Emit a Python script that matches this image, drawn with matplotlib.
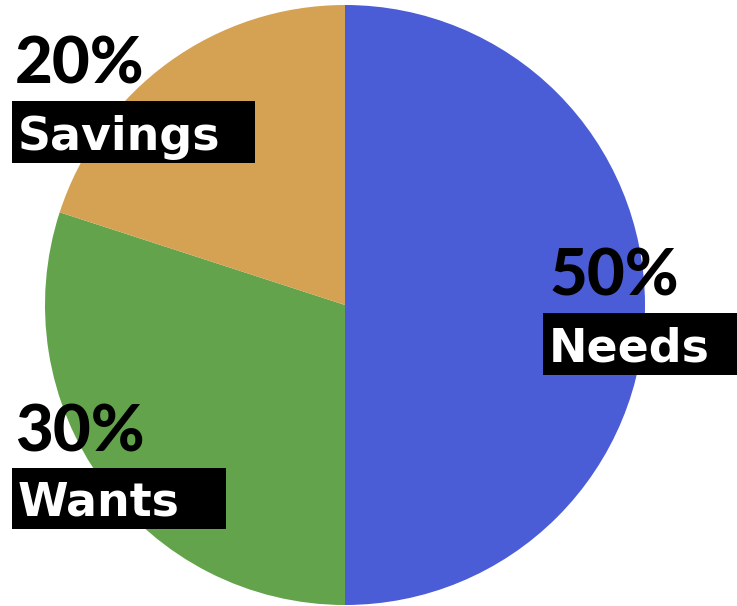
import matplotlib
matplotlib.use("Agg")
import matplotlib.pyplot as plt
from matplotlib.patches import Rectangle

categories = ["Needs", "Wants", "Savings"]
shares = [50, 30, 20]
colors = ["#4A5CD6", "#62A34C", "#D4A252"]

W, H = 737, 606
fig = plt.figure(figsize=(W / 100, H / 100), dpi=100)
fig.patch.set_facecolor("white")

# pie axes: center (345, 305) px, radius 300 px
ax = fig.add_axes([45 / W, 1 / H, 600 / W, 600 / H])
ax.pie(shares, colors=colors, startangle=90, counterclock=False,
       radius=1, wedgeprops=dict(linewidth=0))
ax.set_xlim(-1, 1)
ax.set_ylim(-1, 1)
ax.set_aspect("equal")
ax.axis("off")

def label(pct, name, px_x, pct_base, box_x0, box_x1, box_y0, box_y1):
    fig.add_artist(Rectangle((box_x0 / W, 1 - box_y1 / H), (box_x1 - box_x0) / W,
                             (box_y1 - box_y0) / H, transform=fig.transFigure,
                             facecolor="black", edgecolor="none", zorder=5))
    fig.text(px_x / W, 1 - pct_base / H, f"{pct}%", fontsize=47, fontweight="black",
             family="Lato", color="black", ha="left", va="baseline", zorder=6)
    fig.text((box_x0 + 6) / W, 1 - (box_y1 - 13) / H, name, fontsize=33,
             fontweight="bold", family="DejaVu Sans", color="white", ha="left",
             va="baseline", zorder=6)

label(shares[2], categories[2], 15, 83, 12, 255, 101, 163)
label(shares[1], categories[1], 15, 452, 12, 226, 468, 529)
label(shares[0], categories[0], 550, 295, 543, 737, 313, 375)

fig.savefig("out.png", dpi=100)
